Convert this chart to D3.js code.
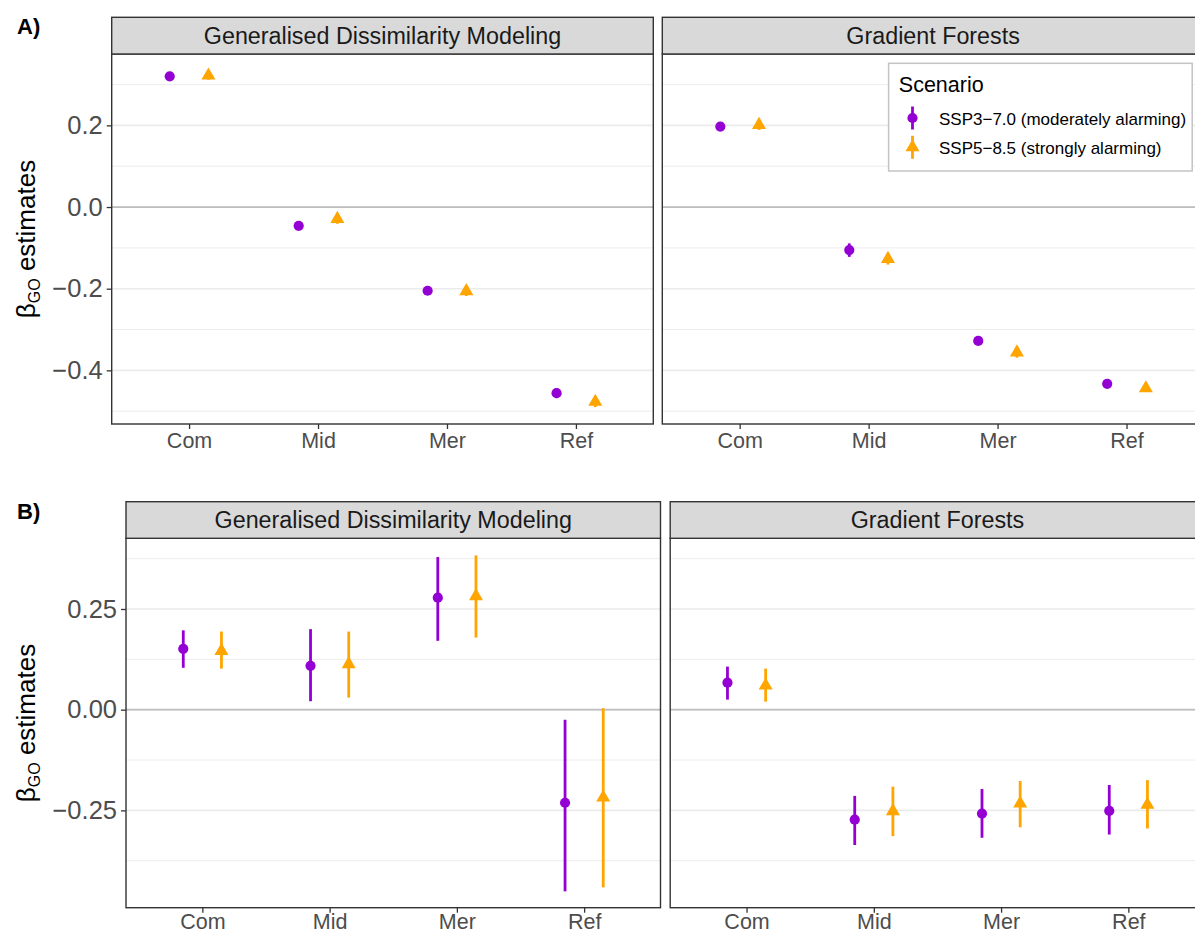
<!DOCTYPE html>
<html>
<head>
<meta charset="utf-8">
<script src="https://cdn.jsdelivr.net/npm/d3@7"></script>
<style>
  html, body { margin: 0; padding: 0; background: #fff; }
  svg { display: block; font-family: "Liberation Sans", Arial, Helvetica, sans-serif; }
</style>
</head>
<body>
<svg id="chart" width="1195" height="934"></svg>
<script>
// ---------------- DATA ----------------
const categories = ["Com", "Mid", "Mer", "Ref"];
const methods = ["Generalised Dissimilarity Modeling", "Gradient Forests"];
const scenarios = ["SSP3\u22127.0 (moderately alarming)", "SSP5\u22128.5 (strongly alarming)"];
const scenarioColors = ["#9400D3", "#FFA500"];

// Panel A
const A_GDM_370_est = [0.320, -0.046, -0.205, -0.456];
const A_GDM_370_lo  = [0.313, -0.052, -0.211, -0.468];
const A_GDM_370_hi  = [0.327, -0.040, -0.199, -0.444];
const A_GDM_585_est = [0.322, -0.029, -0.206, -0.477];
const A_GDM_585_lo  = [0.312, -0.041, -0.218, -0.490];
const A_GDM_585_hi  = [0.332, -0.017, -0.194, -0.464];
const A_GF_370_est  = [0.197, -0.1055, -0.328, -0.433];
const A_GF_370_lo   = [0.191, -0.122, -0.334, -0.439];
const A_GF_370_hi   = [0.203, -0.089, -0.322, -0.427];
const A_GF_585_est  = [0.201, -0.127, -0.356, -0.444];
const A_GF_585_lo   = [0.189, -0.141, -0.369, -0.453];
const A_GF_585_hi   = [0.213, -0.113, -0.343, -0.435];

// Panel B
const B_GDM_370_est = [0.151, 0.109, 0.278, -0.231];
const B_GDM_370_lo  = [0.104, 0.021, 0.171, -0.451];
const B_GDM_370_hi  = [0.197, 0.200, 0.379, -0.025];
const B_GDM_585_est = [0.146, 0.113, 0.282, -0.218];
const B_GDM_585_lo  = [0.102, 0.030, 0.179, -0.441];
const B_GDM_585_hi  = [0.194, 0.194, 0.383, 0.0035];
const B_GF_370_est  = [0.067, -0.273, -0.258, -0.251];
const B_GF_370_lo   = [0.025, -0.336, -0.318, -0.310];
const B_GF_370_hi   = [0.107, -0.214, -0.197, -0.187];
const B_GF_585_est  = [0.060, -0.252, -0.233, -0.236];
const B_GF_585_lo   = [0.020, -0.314, -0.292, -0.295];
const B_GF_585_hi   = [0.102, -0.191, -0.177, -0.175];

// Axis ticks
const A_majorTicks = [-0.4, -0.2, 0, 0.2];
const A_tickLabels = ["\u22120.4", "\u22120.2", "0.0", "0.2"];
const A_minorTicks = [-0.5, -0.3, -0.1, 0.1, 0.3];
const B_majorTicks = [-0.25, 0, 0.25];
const B_tickLabels = ["\u22120.25", "0.00", "0.25"];
const B_minorTicks = [-0.375, -0.125, 0.125, 0.375];

// ---------------- DRAW ----------------
const svg = d3.select("#chart");
svg.append("rect").attr("width", 1195).attr("height", 934).attr("fill", "#fff");

function series(est, lo, hi) {
  return categories.map((c, i) => ({ cat: c, est: est[i], lo: lo[i], hi: hi[i] }));
}

function drawPanel(opts) {
  const { x0, x1, top, bottom, stripTop, title, yDomain, major, minor, labels, data, showY, xPad } = opts;
  const g = svg.append("g");
  const x = d3.scalePoint().domain(categories).range([x0, x1]).padding(0.6);
  const y = d3.scaleLinear().domain(yDomain).range([bottom, top]);
  const step = x.step();

  g.append("rect").attr("x", x0).attr("y", top).attr("width", x1 - x0).attr("height", bottom - top).attr("fill", "#fff");
  g.selectAll(".minor").data(minor).enter().append("line")
    .attr("x1", x0).attr("x2", x1).attr("y1", d => y(d)).attr("y2", d => y(d))
    .attr("stroke", "#EBEBEB").attr("stroke-width", 0.9);
  g.selectAll(".major").data(major).enter().append("line")
    .attr("x1", x0).attr("x2", x1).attr("y1", d => y(d)).attr("y2", d => y(d))
    .attr("stroke", "#EBEBEB").attr("stroke-width", 1.6);
  g.append("line").attr("x1", x0).attr("x2", x1).attr("y1", y(0)).attr("y2", y(0))
    .attr("stroke", "#BEBEBE").attr("stroke-width", 1.8);

  data.forEach((s, si) => {
    const off = (si === 0 ? -0.15 : 0.15) * step;
    const col = scenarioColors[si];
    g.selectAll(null).data(s).enter().append("line")
      .attr("x1", d => x(d.cat) + off).attr("x2", d => x(d.cat) + off)
      .attr("y1", d => y(d.lo)).attr("y2", d => y(d.hi))
      .attr("stroke", col).attr("stroke-width", 2.8);
    if (si === 0) {
      g.selectAll(null).data(s).enter().append("circle")
        .attr("cx", d => x(d.cat) + off).attr("cy", d => y(d.est)).attr("r", 5.1)
        .attr("fill", col);
    } else {
      g.selectAll(null).data(s).enter().append("path")
        .attr("d", d3.symbol().type(d3.symbolTriangle).size(85))
        .attr("transform", d => `translate(${x(d.cat) + off},${y(d.est)})`)
        .attr("fill", col);
    }
  });

  g.append("rect").attr("x", x0).attr("y", top).attr("width", x1 - x0).attr("height", bottom - top)
    .attr("fill", "none").attr("stroke", "#333333").attr("stroke-width", 1.4);
  g.append("rect").attr("x", x0).attr("y", stripTop).attr("width", x1 - x0).attr("height", top - stripTop)
    .attr("fill", "#D9D9D9").attr("stroke", "#333333").attr("stroke-width", 1.4);
  g.append("text").attr("x", (x0 + x1) / 2).attr("y", (stripTop + top) / 2 + 8)
    .attr("text-anchor", "middle").attr("font-size", 23.3).attr("fill", "#1A1A1A").text(title);

  const xa = g.append("g").attr("transform", `translate(0,${bottom})`)
    .call(d3.axisBottom(x).tickSizeInner(5).tickSizeOuter(0).tickPadding(xPad));
  xa.select(".domain").remove();
  xa.selectAll(".tick line").attr("stroke", "#333333").attr("stroke-width", 1.3);
  xa.selectAll(".tick text").attr("fill", "#4D4D4D").attr("font-size", 21.5)
    .attr("font-family", "Liberation Sans, Arial, sans-serif").attr("dy", "0.71em");

  if (showY) {
    const ya = g.append("g").attr("transform", `translate(${x0},0)`)
      .call(d3.axisLeft(y).tickValues(major).tickFormat((d, i) => labels[i]).tickSizeInner(5).tickSizeOuter(0).tickPadding(4));
    ya.select(".domain").remove();
    ya.selectAll(".tick line").attr("stroke", "#333333").attr("stroke-width", 1.3);
    ya.selectAll(".tick text").attr("fill", "#4D4D4D").attr("font-size", 25.5)
      .attr("font-family", "Liberation Sans, Arial, sans-serif");

    const cy = (top + bottom) / 2;
    const t = svg.append("text")
      .attr("transform", `translate(34.5,${cy}) rotate(-90)`)
      .attr("text-anchor", "middle").attr("font-size", 26).attr("fill", "#000");
    t.append("tspan").text("\u03B2");
    t.append("tspan").attr("font-size", 16).attr("dy", 5).text("GO");
    t.append("tspan").attr("dy", -5).text(" estimates");
  }
  return { x, y };
}

drawPanel({ x0: 111.7, x1: 653.3, stripTop: 17.3, top: 54, bottom: 424, title: methods[0], xPad: 4,
  yDomain: [-0.5314, 0.3748], major: A_majorTicks, minor: A_minorTicks, labels: A_tickLabels, showY: true,
  data: [series(A_GDM_370_est, A_GDM_370_lo, A_GDM_370_hi), series(A_GDM_585_est, A_GDM_585_lo, A_GDM_585_hi)] });
drawPanel({ x0: 662.3, x1: 1203.9, stripTop: 17.3, top: 54, bottom: 424, title: methods[1], xPad: 4,
  yDomain: [-0.5314, 0.3748], major: A_majorTicks, minor: A_minorTicks, labels: A_tickLabels, showY: false,
  data: [series(A_GF_370_est, A_GF_370_lo, A_GF_370_hi), series(A_GF_585_est, A_GF_585_lo, A_GF_585_hi)] });

drawPanel({ x0: 126, x1: 660.5, stripTop: 501.7, top: 538.3, bottom: 907.7, title: methods[0], xPad: 1,
  yDomain: [-0.4916, 0.4255], major: B_majorTicks, minor: B_minorTicks, labels: B_tickLabels, showY: true,
  data: [series(B_GDM_370_est, B_GDM_370_lo, B_GDM_370_hi), series(B_GDM_585_est, B_GDM_585_lo, B_GDM_585_hi)] });
drawPanel({ x0: 670.2, x1: 1204.7, stripTop: 501.7, top: 538.3, bottom: 907.7, title: methods[1], xPad: 1,
  yDomain: [-0.4916, 0.4255], major: B_majorTicks, minor: B_minorTicks, labels: B_tickLabels, showY: false,
  data: [series(B_GF_370_est, B_GF_370_lo, B_GF_370_hi), series(B_GF_585_est, B_GF_585_lo, B_GF_585_hi)] });

svg.append("text").attr("x", 17).attr("y", 34.3).attr("font-size", 22).attr("font-weight", "bold").text("A)");
svg.append("text").attr("x", 17).attr("y", 519.3).attr("font-size", 22).attr("font-weight", "bold").text("B)");

const lg = svg.append("g");
lg.append("rect").attr("x", 888.6).attr("y", 63.3).attr("width", 303.6).attr("height", 107.7)
  .attr("fill", "#fff").attr("stroke", "#C4C4C4").attr("stroke-width", 1.5);
lg.append("text").attr("x", 898.8).attr("y", 91.7).attr("font-size", 21.5).attr("fill", "#000").text("Scenario");
const keyY = [118, 147.3];
scenarios.forEach((s, i) => {
  const col = scenarioColors[i];
  lg.append("line").attr("x1", 912.5).attr("x2", 912.5).attr("y1", keyY[i] - 11.5).attr("y2", keyY[i] + 11.5)
    .attr("stroke", col).attr("stroke-width", 2.8);
  if (i === 0) {
    lg.append("circle").attr("cx", 912.5).attr("cy", keyY[i]).attr("r", 5.1).attr("fill", col);
  } else {
    lg.append("path").attr("d", d3.symbol().type(d3.symbolTriangle).size(85))
      .attr("transform", `translate(912.5,${keyY[i]})`).attr("fill", col);
  }
  lg.append("text").attr("x", 939).attr("y", keyY[i] + 6.5).attr("font-size", 17).attr("fill", "#000").text(s);
});
</script>
</body>
</html>
